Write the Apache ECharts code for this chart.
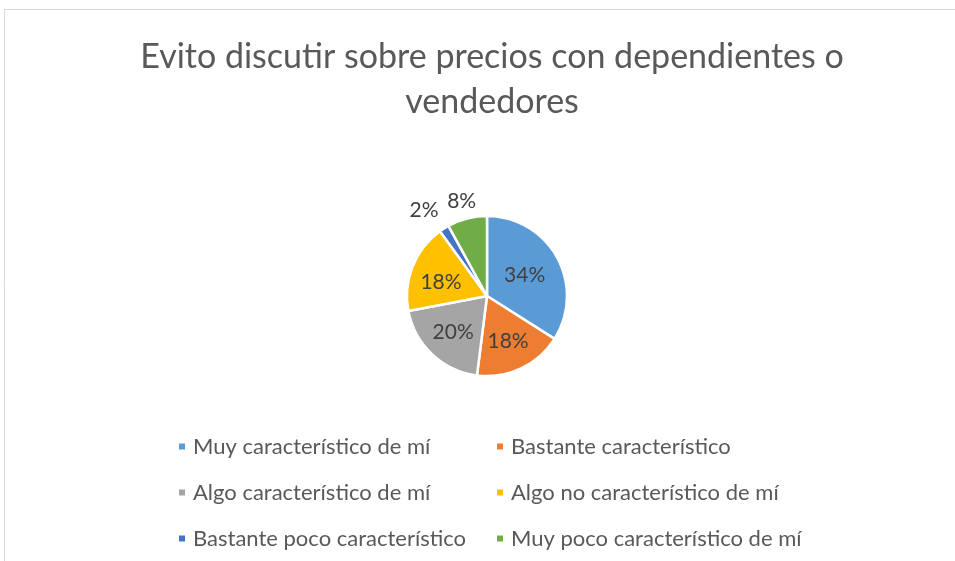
<!DOCTYPE html>
<html><head><meta charset="utf-8">
<script src="https://cdn.jsdelivr.net/npm/echarts@6/dist/echarts.min.js"></script>
<style>html,body{margin:0;padding:0;background:#fff}#c{width:955px;height:561px}</style>
</head><body><div id="c"></div>
<script>
const titleText = "Evito discutir sobre precios con dependientes o\nvendedores";
const categories = ["Muy característico de mí","Bastante característico","Algo característico de mí","Algo no característico de mí","Bastante poco característico","Muy poco característico de mí"];
const values = [34, 18, 20, 18, 2, 8];
const colors = ["#5B9BD5","#ED7D31","#A5A5A5","#FFC000","#4472C4","#70AD47"];
const FONT = "Lato, 'Open Sans', sans-serif";
const CX = 487, CY = 296;

const chart = echarts.init(document.getElementById('c'));
const data = categories.map((n, i) => {
  const item = { name: n, value: values[i], itemStyle: { color: colors[i] } };
  if (values[i] < 10) {
    item.label = { position: 'outside' };
  }
  return item;
});
chart.setOption({
  animation: false,
  graphic: [{ type: 'rect', shape: { x: 4.5, y: 9.5, width: 1000, height: 600 }, style: { fill: 'none', stroke: '#d9d9d9', lineWidth: 1 }, silent: true }],
  title: {
    text: titleText, left: 487, top: 30, textAlign: 'center',
    textStyle: { fontFamily: FONT, fontWeight: 'normal', fontSize: 34, color: '#595959', lineHeight: 45 }
  },
  legend: {
    left: 172, top: 423, width: 680, orient: 'horizontal',
    itemWidth: 8, itemHeight: 8, itemGap: 9, icon: 'rect',
    data: categories,
    textStyle: { fontFamily: FONT, fontSize: 22, color: '#595959', width: 293, lineHeight: 37, padding: [0, 0, 0, 2] }
  },
  series: [{
    type: 'pie', center: [CX, CY], radius: 80, startAngle: 90, clockwise: true,
    itemStyle: { borderColor: '#fff', borderWidth: 2.5 },
    label: { show: true, position: 'inside', formatter: '{d}%', fontFamily: FONT, fontSize: 21, color: '#404040' },
    labelLine: { show: false, length: 22, length2: 0 },
    labelLayout: function (p) {
      if (p.dataIndex === 5) return { dx: p.labelRect.width / 2 + 5, dy: 4 };
      if (p.dataIndex === 4) return { dx: 21, dy: -10 };
      if (p.dataIndex >= 1 && p.dataIndex <= 3) {
        const r = p.labelRect;
        const mx = r.x + r.width / 2 - CX, my = r.y + r.height / 2 - CY;
        return { dx: mx * 0.15, dy: my * 0.15 + (p.dataIndex === 3 ? 4 : 0) };
      }
      return {};
    },
    data: data
  }]
});
</script></body></html>
